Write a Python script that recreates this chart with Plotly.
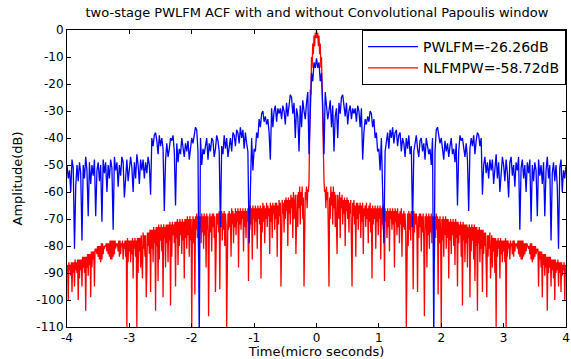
import numpy as np
import plotly.graph_objects as go

# Time axis (micro seconds) for the non-negative half; the ACF magnitude is symmetric about t=0
t_blue_half = np.round(np.arange(0, 201) * 0.02, 4)
t_red_half = np.round(np.arange(0, 401) * 0.01, 4)

# PWLFM ACF (dB), t = 0 .. 4 step 0.02
pwlfm_half_db = [
    -10.5, -14, -12, -19, -16, -28, -46, -23, -27, -33,
    -30, -26, -36, -28, -45, -32, -29, -40, -27, -31,
    -25, -24, -28, -32, -27, -35, -30, -28, -33, -29,
    -31, -29, -34, -28, -30, -36, -29, -48, -38, -33,
    -35, -32, -34, -30, -31, -36, -33, -40, -38, -45,
    -44, -52, -40, -58, -79, -45, -42, -38, -44, -37,
    -40, -36, -42, -38, -37, -43, -39, -38, -45, -40,
    -42, -47, -40, -44, -39, -46, -43, -73, -45, -41,
    -39, -44, -47, -41, -40, -45, -42, -48, -40, -43,
    -46, -44, -50, -40, -115, -45, -37, -36, -39, -42,
    -40, -44, -48, -41, -45, -42, -47, -43, -40, -46,
    -44, -49, -42, -65, -45, -39, -41, -40, -44, -47,
    -42, -48, -67, -44, -40, -43, -39, -46, -41, -38,
    -39, -43, -40, -61, -50, -47, -53, -49, -55, -48,
    -52, -48, -57, -50, -46, -55, -49, -60, -51, -47,
    -50, -56, -48, -53, -62, -49, -47, -54, -50, -58,
    -49, -52, -47, -74, -51, -48, -55, -50, -60, -49,
    -53, -48, -71, -50, -56, -49, -52, -69, -48, -54,
    -50, -57, -49, -69, -52, -47, -55, -50, -78, -53,
    -49, -56, -50, -58, -81, -51, -48, -60, -52, -55,
    -50,
]

# NLFMPW ACF (dB), t = 0 .. 4 step 0.01
nlfmpw_half_db = [
    0, -3, -1, -6, -2, -9, -5, -14, -10, -24,
    -22, -40, -56, -60, -59, -66, -58, -63, -60, -75,
    -95, -62, -70, -58, -65, -60, -72, -58, -66, -60,
    -73, -61, -68, -83, -61, -64, -70, -60, -77, -62,
    -66, -61, -72, -63, -68, -62, -80, -63, -67, -62,
    -70, -63, -75, -64, -68, -63, -78, -95, -64, -69,
    -63, -72, -65, -84, -64, -70, -64, -74, -65, -68,
    -64, -77, -65, -71, -64, -83, -66, -69, -65, -73,
    -64, -70, -66, -79, -65, -71, -64, -75, -66, -92,
    -65, -72, -66, -70, -65, -81, -66, -71, -65, -76,
    -66, -70, -65, -85, -66, -72, -65, -74, -67, -93,
    -66, -71, -67, -77, -66, -73, -67, -82, -66, -70,
    -67, -74, -66, -72, -67, -88, -66, -71, -67, -76,
    -66, -73, -68, -79, -67, -72, -66, -84, -68, -73,
    -67, -74, -68, -75, -110, -72, -68, -80, -67, -74,
    -68, -78, -67, -73, -68, -96, -67, -75, -68, -72,
    -68, -74, -97, -69, -77, -68, -73, -68, -82, -69,
    -75, -68, -78, -106, -69, -74, -68, -88, -69, -76,
    -68, -81, -69, -75, -68, -79, -69, -73, -69, -85,
    -69, -77, -68, -74, -69, -98, -70, -79, -69, -75,
    -110, -70, -78, -69, -84, -70, -76, -69, -81, -70,
    -77, -70, -92, -71, -78, -70, -83, -71, -76, -70,
    -80, -71, -87, -70, -77, -71, -95, -71, -79, -72,
    -76, -71, -84, -72, -102, -71, -78, -72, -86, -72,
    -79, -72, -88, -73, -77, -72, -99, -73, -82, -72,
    -78, -73, -85, -72, -93, -73, -80, -73, -104, -74,
    -79, -73, -86, -74, -81, -74, -97, -74, -83, -75,
    -80, -75, -89, -99, -76, -84, -76, -81, -75, -92,
    -83, -76, -88, -77, -82, -77, -90, -77, -110, -78,
    -84, -77, -81, -78, -92, -77, -83, -78, -86, -78,
    -82, -78, -86, -77, -110, -78, -84, -78, -81, -79,
    -85, -78, -80, -79, -83, -78, -84, -78, -82, -79,
    -80, -79, -81, -78, -83, -78, -84, -78, -85, -78,
    -85, -78, -84, -79, -83, -79, -82, -79, -80, -80,
    -81, -80, -83, -79, -85, -79, -86, -80, -85, -80,
    -84, -80, -83, -81, -82, -81, -95, -82, -85, -82,
    -88, -82, -99, -83, -87, -83, -91, -83, -88, -84,
    -104, -84, -90, -84, -88, -84, -95, -85, -89, -85,
    -92, -85, -100, -85, -90, -86, -89, -85, -95, -86,
    -90, -86, -97, -86, -91, -87, -89, -86, -100, -87,
    -88,
]

series_names = ["PWLFM=-26.26dB", "NLFMPW=-58.72dB"]
x_ticks = [-4, -3, -2, -1, 0, 1, 2, 3, 4]
y_ticks = [0, -10, -20, -30, -40, -50, -60, -70, -80, -90, -100, -110]


def full(t_half, v_half):
    t = np.concatenate([-t_half[::-1], t_half[1:]])
    v = np.concatenate([np.array(v_half[::-1]), np.array(v_half[1:])])
    return t, v


tb, vb = full(t_blue_half, pwlfm_half_db)
tr, vr = full(t_red_half, nlfmpw_half_db)

FONT = "DejaVu Sans, Arial, sans-serif"

fig = go.Figure()
fig.add_trace(go.Scatter(x=tr, y=vr, mode="lines", name=series_names[1],
                         line=dict(color="#FF0000", width=1.3), legendrank=2))
fig.add_trace(go.Scatter(x=tb, y=vb, mode="lines", name=series_names[0],
                         line=dict(color="#0000FF", width=1.3), legendrank=1))

axis_common = dict(showline=True, linecolor="black", linewidth=1, mirror="ticks",
                   ticks="inside", ticklen=4, tickcolor="black", showgrid=False,
                   zeroline=False, ticklabeloverflow="allow", automargin=False,
                   tickfont=dict(family=FONT, size=12, color="black"))

fig.update_layout(
    width=571, height=359,
    margin=dict(l=67, r=5, t=30, b=32),
    paper_bgcolor="white", plot_bgcolor="white",
    title=dict(text="two-stage PWLFM ACF with and without Convolutional Papoulis window",
               x=0.555, xanchor="center", y=1 - 12 / 359, yanchor="middle", yref="container",
               font=dict(family=FONT, size=13, color="black")),
    xaxis=dict(range=[-4, 4], tickvals=x_ticks, ticktext=[str(v) for v in x_ticks],
               title=dict(text="Time(micro seconds)", standoff=2,
                          font=dict(family=FONT, size=13, color="black")),
               **axis_common),
    yaxis=dict(range=[-110, 0], tickvals=y_ticks, ticktext=[str(v) for v in y_ticks],
               title=dict(text="Amplitude(dB)", standoff=10,
                          font=dict(family=FONT, size=13, color="black")),
               **axis_common),
    legend=dict(x=1, xanchor="right", y=1, yanchor="top", bgcolor="white",
                bordercolor="black", borderwidth=1, itemwidth=50,
                font=dict(family=FONT, size=14, color="black"), tracegroupgap=0),
    showlegend=True,
)

fig.write_html("out.html")
